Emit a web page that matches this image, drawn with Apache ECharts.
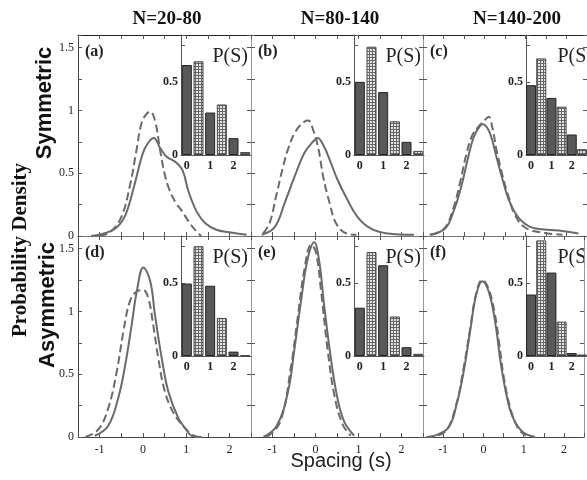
<!DOCTYPE html>
<html>
<head>
<meta charset="utf-8">
<script src="https://cdn.jsdelivr.net/npm/echarts@6/dist/echarts.min.js"></script>
<style>
html, body { margin: 0; padding: 0; background: #fff; }
#chart { width: 587px; height: 480px; }
</style>
</head>
<body>
<div id="chart"></div>
<script>
// spacing (s) and probability density
var aSolidS = [-1.2, -0.9, -0.6, -0.4, -0.2, 0.0, 0.12, 0.25, 0.4, 0.55, 0.75, 0.92, 1.05, 1.25, 1.45, 1.7, 2.0, 2.4];
var aSolidP = [0.0, 0.02, 0.07, 0.17, 0.40, 0.66, 0.74, 0.78, 0.70, 0.63, 0.59, 0.52, 0.36, 0.19, 0.10, 0.05, 0.03, 0.01];
var aDashS = [-1.0, -0.76, -0.5, -0.3, -0.15, -0.03, 0.08, 0.17, 0.28, 0.4, 0.5, 0.6, 0.75, 0.9, 1.05, 1.2, 1.35];
var aDashP = [0.0, 0.03, 0.15, 0.40, 0.68, 0.90, 0.97, 0.99, 0.92, 0.68, 0.50, 0.38, 0.27, 0.20, 0.12, 0.05, 0.0];

var bSolidS = [-1.25, -0.95, -0.72, -0.49, -0.26, -0.06, 0.05, 0.2, 0.36, 0.51, 0.74, 0.98, 1.28, 1.67, 2.29];
var bSolidP = [0.01, 0.07, 0.26, 0.47, 0.66, 0.75, 0.78, 0.71, 0.58, 0.45, 0.29, 0.15, 0.06, 0.02, 0.01];
var bDashS = [-1.22, -1.07, -0.92, -0.77, -0.62, -0.45, -0.26, -0.17, -0.05, 0.07, 0.18, 0.33, 0.48, 0.72, 0.95];
var bDashP = [0.02, 0.10, 0.31, 0.53, 0.71, 0.84, 0.91, 0.92, 0.84, 0.69, 0.47, 0.26, 0.10, 0.02, 0.01];

var cSolidS = [-1.34, -0.96, -0.74, -0.57, -0.41, -0.26, -0.1, -0.04, 0.13, 0.29, 0.44, 0.59, 0.82, 1.13, 1.52, 1.9, 2.29];
var cSolidP = [0.01, 0.06, 0.21, 0.39, 0.61, 0.79, 0.88, 0.89, 0.82, 0.63, 0.45, 0.29, 0.15, 0.07, 0.05, 0.04, 0.02];
var cDashS = [-1.3, -0.98, -0.76, -0.6, -0.45, -0.3, -0.12, 0.0, 0.1, 0.2, 0.29, 0.44, 0.59, 0.74, 0.98, 1.36, 1.9];
var cDashP = [0.01, 0.06, 0.22, 0.42, 0.64, 0.80, 0.88, 0.92, 0.95, 0.85, 0.69, 0.48, 0.31, 0.17, 0.07, 0.03, 0.01];

var dSolidS = [-1.11, -0.8, -0.57, -0.41, -0.26, -0.14, 0.01, 0.17, 0.28, 0.44, 0.59, 0.82, 1.0, 1.13, 1.36];
var dSolidP = [0.01, 0.09, 0.31, 0.57, 0.89, 1.16, 1.35, 1.24, 0.97, 0.62, 0.36, 0.15, 0.06, 0.01, 0.0];
var dDashS = [-1.33, -1.03, -0.8, -0.61, -0.45, -0.3, -0.14, 0.01, 0.13, 0.24, 0.36, 0.51, 0.71, 0.9, 1.09, 1.25];
var dDashP = [0.0, 0.06, 0.23, 0.51, 0.84, 1.08, 1.16, 1.17, 1.10, 0.89, 0.62, 0.36, 0.19, 0.10, 0.03, 0.0];

var eSolidS = [-1.21, -0.9, -0.64, -0.49, -0.33, -0.18, -0.03, 0.09, 0.2, 0.36, 0.51, 0.67, 0.9];
var eSolidP = [0.0, 0.09, 0.36, 0.70, 1.10, 1.42, 1.55, 1.39, 1.05, 0.62, 0.31, 0.12, 0.01];
var eDashS = [-1.13, -0.82, -0.57, -0.41, -0.26, -0.1, 0.01, 0.13, 0.28, 0.44, 0.63, 0.82];
var eDashP = [0.0, 0.12, 0.56, 0.96, 1.33, 1.53, 1.47, 1.16, 0.70, 0.33, 0.10, 0.01];

var fSolidS = [-1.34, -0.88, -0.65, -0.49, -0.33, -0.18, -0.03, 0.13, 0.29, 0.44, 0.59, 0.74, 0.98, 1.28];
var fSolidP = [0.0, 0.07, 0.28, 0.52, 0.84, 1.13, 1.24, 1.16, 0.92, 0.57, 0.31, 0.15, 0.04, 0.0];
var fDashS = [-1.42, -0.96, -0.69, -0.49, -0.33, -0.18, -0.03, 0.13, 0.29, 0.4, 0.51, 0.67, 0.86, 1.05];
var fDashP = [0.0, 0.04, 0.24, 0.55, 0.86, 1.14, 1.25, 1.18, 0.97, 0.73, 0.47, 0.23, 0.07, 0.01];

// inset P(S): filled bars at 0,1,2 and hatched bars at 0.5,1.5,2.5
var insetCats = ['0', '0.5', '1', '1.5', '2', '2.5'];
var aFilled = [0.615, 0.29, 0.115], aHatched = [0.64, 0.345, 0.02];
var bFilled = [0.50, 0.43, 0.09], bHatched = [0.74, 0.23, 0.028];
var cFilled = [0.477, 0.39, 0.14], cHatched = [0.66, 0.33, 0.04];
var dFilled = [0.495, 0.48, 0.03], dHatched = [0.75, 0.26, 0.005];
var eFilled = [0.33, 0.62, 0.06], eHatched = [0.71, 0.27, 0.015];
var fFilled = [0.42, 0.57, 0.02], fHatched = [0.79, 0.235, 0.01];

var colTitles = ['N=20-80', 'N=80-140', 'N=140-200'];
var panelTags = ['(a)', '(b)', '(c)', '(d)', '(e)', '(f)'];
var mainYLabels = [0, 0.5, 1, 1.5];
var mainXLabels = [-1, 0, 1, 2];

var curves = [
    [aSolidS, aSolidP, aDashS, aDashP], [bSolidS, bSolidP, bDashS, bDashP], [cSolidS, cSolidP, cDashS, cDashP],
    [dSolidS, dSolidP, dDashS, dDashP], [eSolidS, eSolidP, eDashS, eDashP], [fSolidS, fSolidP, fDashS, fDashP]
];
var bars = [[aFilled, aHatched], [bFilled, bHatched], [cFilled, cHatched],
            [dFilled, dHatched], [eFilled, eHatched], [fFilled, fHatched]];

function pts(xs, ys) {
    return xs.map(function (x, i) { return [x, ys[i]]; });
}

function buildChart() {
    var panelLeft = [78, 251, 423];
    var panelWidth = [173, 172, 173];
    var rowTop = [35, 236];
    var panelHeight = 201;

    // grid pattern for the hatched bars
    var tile = document.createElement('canvas');
    tile.width = 3;
    tile.height = 3;
    var ctx = tile.getContext('2d');
    ctx.fillStyle = '#e6e6e6';
    ctx.fillRect(0, 0, 3, 3);
    ctx.fillStyle = '#666';
    ctx.fillRect(0, 0, 3, 1);
    ctx.fillRect(0, 0, 1, 3);
    var tileUrl = tile.toDataURL();

    var serif = 'Liberation Serif';
    var grids = [], xAxes = [], yAxes = [], series = [], texts = [];

    for (var i = 0; i < 6; i++) {
        var row = Math.floor(i / 3), col = i % 3;
        var pLeft = panelLeft[col], pTop = rowTop[row], pWidth = panelWidth[col];
        var g0 = grids.length;

        grids.push({left: pLeft, top: pTop, width: pWidth, height: panelHeight});
        grids.push({left: pLeft + 103, top: pTop, width: 70, height: 120});

        var tickX = {show: true, inside: true, length: 4, lineStyle: {color: '#555'}};
        // main panel axes (bottom / top / left / right)
        xAxes.push({
            gridIndex: g0, type: 'value', min: -1.5, max: 2.5, interval: 0.5,
            axisLine: {onZero: false, lineStyle: {color: row === 1 ? '#444' : '#777'}},
            axisTick: tickX,
            splitLine: {show: false},
            axisLabel: {
                show: row === 1, margin: 7, fontFamily: serif, fontSize: 12, color: '#222',
                formatter: function (v) { return mainXLabels.indexOf(v) >= 0 ? String(v) : ''; }
            }
        });
        xAxes.push({
            gridIndex: g0, type: 'value', position: 'top', min: -1.5, max: 2.5, interval: 0.5,
            axisLine: {onZero: false, lineStyle: {color: row === 0 ? '#222' : '#777'}},
            axisTick: tickX,
            splitLine: {show: false},
            axisLabel: {show: false}
        });
        yAxes.push({
            gridIndex: g0, type: 'value', min: 0, max: 1.6, interval: 0.25,
            axisLine: {show: true, onZero: false, lineStyle: {color: col === 0 ? '#444' : '#999'}},
            axisTick: {show: true, inside: true, length: 4, lineStyle: {color: '#555'}},
            splitLine: {show: false},
            axisLabel: {
                show: col === 0, margin: 4, fontFamily: serif, fontSize: 12, color: '#222',
                formatter: function (v) { return mainYLabels.indexOf(v) >= 0 ? String(v) : ''; }
            }
        });
        yAxes.push({
            gridIndex: g0, type: 'value', position: 'right', min: 0, max: 1.6, interval: 0.25,
            axisLine: {show: true, onZero: false, lineStyle: {color: '#999'}},
            axisTick: {show: true, inside: true, length: 4, lineStyle: {color: '#555'}},
            splitLine: {show: false},
            axisLabel: {show: false}
        });
        var mx = xAxes.length - 2, my = yAxes.length - 2;

        // inset axes
        xAxes.push({
            gridIndex: g0 + 1, type: 'category', data: insetCats,
            axisLine: {onZero: false, lineStyle: {color: '#555'}},
            axisTick: {show: false},
            axisLabel: {
                interval: 0, margin: 5, fontFamily: serif, fontSize: 12, fontWeight: 'bold', color: '#222',
                formatter: function (v) { return v.indexOf('.') < 0 ? v : ''; }
            }
        });
        yAxes.push({
            gridIndex: g0 + 1, type: 'value', min: 0, max: 0.82, interval: 0.25,
            axisLine: {show: true, onZero: false, lineStyle: {color: '#555'}},
            axisTick: {show: true, inside: true, length: 4, lineStyle: {color: '#555'}},
            splitLine: {show: false},
            axisLabel: {
                margin: 3, fontFamily: serif, fontSize: 12, fontWeight: 'bold', color: '#222',
                formatter: function (v) { return (v === 0 || v === 0.5) ? String(v) : ''; }
            }
        });
        var ix = xAxes.length - 1, iy = yAxes.length - 1;

        series.push({
            type: 'line', xAxisIndex: mx, yAxisIndex: my, data: pts(curves[i][0], curves[i][1]),
            smooth: 0.4, showSymbol: false, lineStyle: {color: '#6a6a6a', width: 2}
        });
        series.push({
            type: 'line', xAxisIndex: mx, yAxisIndex: my, data: pts(curves[i][2], curves[i][3]),
            smooth: 0.4, showSymbol: false, lineStyle: {color: '#6a6a6a', width: 2, type: [8, 4]}
        });

        var f = bars[i][0], h = bars[i][1];
        series.push({
            type: 'bar', xAxisIndex: ix, yAxisIndex: iy, barWidth: 10, barGap: '-100%',
            data: [f[0], '-', f[1], '-', f[2], '-'],
            itemStyle: {color: '#585858', borderColor: '#222', borderWidth: 1}
        });
        series.push({
            type: 'bar', xAxisIndex: ix, yAxisIndex: iy, barWidth: 10, barGap: '-100%',
            data: ['-', h[0], '-', h[1], '-', h[2]],
            itemStyle: {color: {image: tileUrl, repeat: 'repeat'}, borderColor: '#444', borderWidth: 1}
        });

        texts.push({
            type: 'text', x: pLeft + 7, y: pTop + 17,
            style: {text: panelTags[i], font: 'bold 16px "Liberation Serif"', fill: '#222', verticalAlign: 'middle'}
        });
        texts.push({
            type: 'text', x: pLeft + 170, y: pTop + 22,
            style: {text: 'P(S)', font: '20px "Liberation Serif"', fill: '#222', align: 'right', verticalAlign: 'middle'}
        });
    }

    var titleX = [167, 340, 517];
    for (var c = 0; c < 3; c++) {
        texts.push({
            type: 'text', x: titleX[c], y: 19,
            style: {text: colTitles[c], font: 'bold 19px "Liberation Serif"', fill: '#111', align: 'center', verticalAlign: 'middle'}
        });
    }
    texts.push({
        type: 'text', x: 21, y: 250, rotation: Math.PI / 2,
        style: {text: 'Probability Density', font: 'bold 21px "Liberation Serif"', fill: '#111', align: 'center', verticalAlign: 'middle'}
    });
    texts.push({
        type: 'text', x: 45, y: 103, rotation: Math.PI / 2,
        style: {text: 'Symmetric', font: 'bold 22px "Liberation Sans"', fill: '#111', align: 'center', verticalAlign: 'middle'}
    });
    texts.push({
        type: 'text', x: 48, y: 305, rotation: Math.PI / 2,
        style: {text: 'Asymmetric', font: 'bold 22px "Liberation Sans"', fill: '#111', align: 'center', verticalAlign: 'middle'}
    });
    texts.push({
        type: 'text', x: 341, y: 461,
        style: {text: 'Spacing (s)', font: '20px "Liberation Sans"', fill: '#222', align: 'center', verticalAlign: 'middle'}
    });

    var myChart = echarts.init(document.getElementById('chart'));
    myChart.setOption({
        animation: false,
        backgroundColor: '#fff',
        grid: grids,
        xAxis: xAxes,
        yAxis: yAxes,
        series: series,
        graphic: texts
    });
}

buildChart();
</script>
</body>
</html>
